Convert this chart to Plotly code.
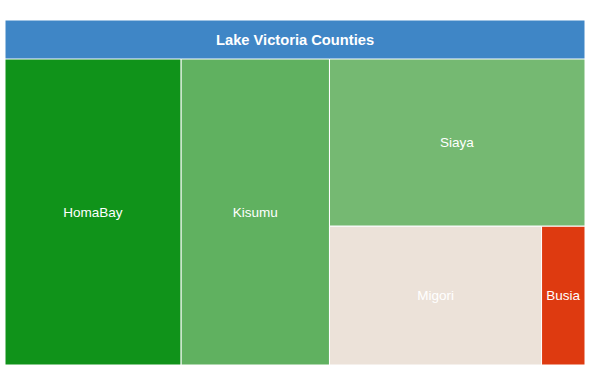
import plotly.graph_objects as go

root = "Lake Victoria Counties"
counties = ["HomaBay", "Kisumu", "Siaya", "Migori", "Busia"]
values = [304, 256, 241, 166, 34]
county_colors = ["#10931a", "#60b160", "#75b972", "#ece2d9", "#de3a10"]
root_color = "#3f86c6"

ids = ["root"] + counties
labels = [""] + counties  # root title is drawn as an annotation in the header
parents = [""] + ["root"] * len(counties)
vals = [sum(values)] + values
colors = [root_color] + county_colors

FONT = "Arial, Liberation Sans, sans-serif"

fig = go.Figure(go.Treemap(
    ids=ids,
    labels=labels,
    parents=parents,
    values=vals,
    branchvalues="total",
    sort=True,
    tiling=dict(packing="binary", pad=0),
    marker=dict(colors=colors, line=dict(color="white", width=1),
                pad=dict(t=39, l=0, r=0, b=0)),
    textposition="middle center",
    textfont=dict(family=FONT, size=13.5, color="white"),
    textinfo="label",
    pathbar=dict(visible=False),
    hoverinfo="label+value",
))

H_PLOT = 371 - 20 - 6
fig.add_annotation(
    text="<b>" + root + "</b>",
    x=0.5, xref="paper", xanchor="center",
    y=1 - 19.5 / H_PLOT, yref="paper", yanchor="middle",
    showarrow=False,
    font=dict(family=FONT, size=14.7, color="white"),
)

fig.update_layout(
    width=600, height=371,
    margin=dict(l=5, r=15, t=20, b=6),
    paper_bgcolor="white",
    font=dict(family=FONT),
)

fig.write_html("out.html", config={"displayModeBar": False},
               post_script="document.body.style.margin='0px';")
